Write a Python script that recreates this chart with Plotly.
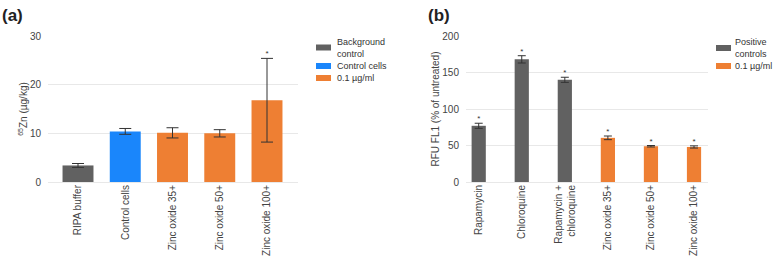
import plotly.graph_objects as go
from plotly.subplots import make_subplots

# ---------- data ----------
cats_a = ["RIPA buffer", "Control cells", "Zinc oxide 35+", "Zinc oxide 50+", "Zinc oxide 100+"]
vals_a = [3.4, 10.4, 10.1, 10.0, 16.8]
err_a = [0.4, 0.6, 1.05, 0.75, 8.6]
group_a = ["Background control", "Control cells", "0.1 µg/ml", "0.1 µg/ml", "0.1 µg/ml"]
sig_a = ["", "", "", "", "*"]

cats_b = ["Rapamycin", "Chloroquine", "Rapamycin +<br>chloroquine",
          "Zinc oxide 35+", "Zinc oxide 50+", "Zinc oxide 100+"]
vals_b = [77, 168, 140, 60.5, 49, 48]
err_b = [3.5, 5, 3.5, 2.5, 1.0, 1.5]
group_b = ["Positive controls", "Positive controls", "Positive controls",
           "0.1 µg/ml", "0.1 µg/ml", "0.1 µg/ml"]
sig_b = ["*", "*", "*", "*", "*", "*"]

legend_a = ["Background<br>control", "Control cells", "0.1 µg/ml"]
legend_a_keys = ["Background control", "Control cells", "0.1 µg/ml"]
legend_b = ["Positive<br>controls", "0.1 µg/ml"]
legend_b_keys = ["Positive controls", "0.1 µg/ml"]

colors = {"Background control": "#616161", "Positive controls": "#616161",
          "Control cells": "#1a86fb", "0.1 µg/ml": "#ee7f33"}

FONT = "Liberation Sans, Arial, sans-serif"
W, H = 776, 261

fig = make_subplots(rows=1, cols=2, horizontal_spacing=0.1)

fig.add_trace(go.Bar(
    x=cats_a, y=vals_a, width=0.655,
    marker=dict(color=[colors[g] for g in group_a], line=dict(width=0)),
    error_y=dict(type="data", array=err_a, color="#333333", thickness=1, width=6),
    showlegend=False), row=1, col=1)
fig.add_trace(go.Scatter(
    x=cats_a, y=[v + e for v, e in zip(vals_a, err_a)], mode="text", text=sig_a,
    textposition="top center", textfont=dict(size=8, color="#333333", family=FONT),
    showlegend=False, hoverinfo="skip"), row=1, col=1)

fig.add_trace(go.Bar(
    x=cats_b, y=vals_b, width=0.33,
    marker=dict(color=[colors[g] for g in group_b], line=dict(width=0)),
    error_y=dict(type="data", array=err_b, color="#333333", thickness=1, width=4),
    showlegend=False), row=1, col=2)
fig.add_trace(go.Scatter(
    x=cats_b, y=[v + e for v, e in zip(vals_b, err_b)], mode="text", text=sig_b,
    textposition="top center", textfont=dict(size=8, color="#333333", family=FONT),
    showlegend=False, hoverinfo="skip"), row=1, col=2)

x0a, x1a = 48, 298
x0b, x1b = 466, 708
top, bottom = 36, 182

fig.update_layout(
    width=W, height=H, margin=dict(l=0, r=0, t=top, b=H - bottom),
    paper_bgcolor="white", plot_bgcolor="white",
    font=dict(family=FONT, size=10, color="#444444"),
    xaxis=dict(domain=[x0a / W, x1a / W], range=[-0.635, 4.656]),
    xaxis2=dict(domain=[x0b / W, x1b / W], range=[-0.295, 5.325]),
)
axis_common = dict(tickangle=-90, tickfont=dict(size=10, color="#444444"),
                   showline=False, showgrid=False, ticks="", automargin=False)
fig.update_xaxes(**axis_common)
fig.update_yaxes(showgrid=True, gridcolor="#e8e8e8", gridwidth=1, zeroline=True,
                 zerolinecolor="#e8e8e8", zerolinewidth=1, showline=False, ticks="",
                 tickfont=dict(size=10, color="#444444"), automargin=False)
fig.update_yaxes(range=[0, 30], tickvals=[0, 10, 20, 30], ticklabelstandoff=6,
                 title=dict(text="<sup>65</sup>Zn (µg/kg)", font=dict(size=10, color="#444444"),
                            standoff=0), row=1, col=1)
fig.update_yaxes(range=[0, 200], tickvals=[0, 50, 100, 150, 200], ticklabelstandoff=6,
                 title=dict(text="RFU FL1 (% of untreated)", font=dict(size=10, color="#444444"),
                            standoff=0), row=1, col=2)


def px_y(py):
    return 1 - (py - top) / (bottom - top)


annotations = [
    dict(text="<b>(a)</b>", x=0, y=px_y(15), xref="paper", yref="paper", showarrow=False,
         xanchor="left", yanchor="middle", font=dict(size=17, color="#222222")),
    dict(text="<b>(b)</b>", x=426 / W, y=px_y(15), xref="paper", yref="paper", showarrow=False,
         xanchor="left", yanchor="middle", font=dict(size=17, color="#222222")),
]
shapes = []


def add_legend(labels, keys, x_sw, x_txt, rows_y):
    for lab, key, yc in zip(labels, keys, rows_y):
        annotations.append(dict(text=lab, x=x_txt / W, y=px_y(yc), xref="paper", yref="paper",
                                showarrow=False, xanchor="left", yanchor="middle", align="left",
                                borderpad=0, font=dict(size=9, color="#333333")))
        shapes.append(dict(type="rect", xref="paper", yref="paper",
                           x0=x_sw / W, x1=(x_sw + 15) / W,
                           y0=px_y(yc + 3), y1=px_y(yc - 3),
                           fillcolor=colors[key], line=dict(width=0)))


add_legend(legend_a, legend_a_keys, 316, 336, [47.5, 66, 78])
add_legend(legend_b, legend_b_keys, 716, 734, [48, 66])

fig.update_layout(annotations=annotations, shapes=shapes)
fig.write_html("out.html", config={"displayModeBar": False},
               post_script="document.body.style.margin='0';")
